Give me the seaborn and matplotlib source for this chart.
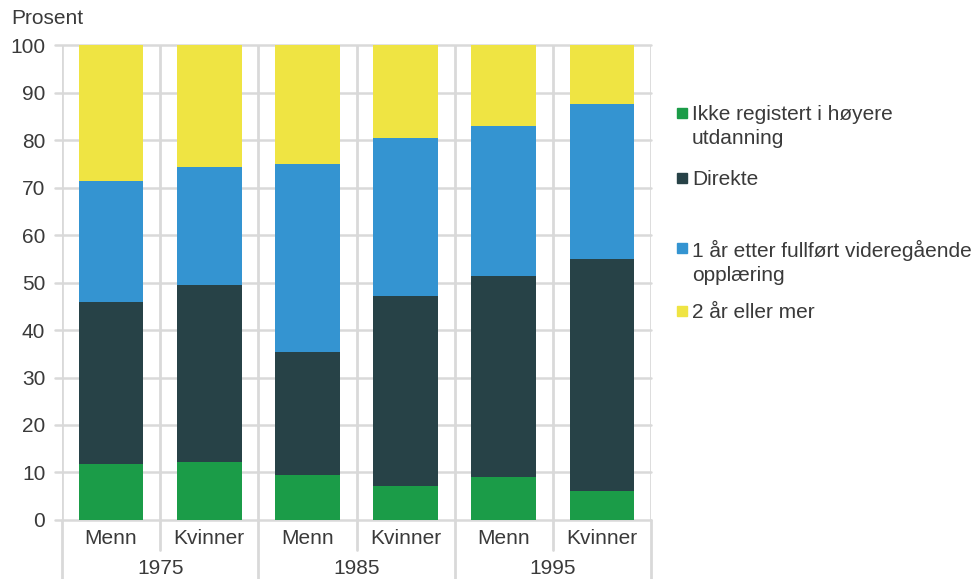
import matplotlib
matplotlib.use("Agg")
import matplotlib.pyplot as plt
import seaborn as sns
import pandas as pd
import numpy as np
from matplotlib.lines import Line2D
from matplotlib.patches import Rectangle

# ---- data ----
years = ["1975", "1975", "1985", "1985", "1995", "1995"]
genders = ["Menn", "Kvinner", "Menn", "Kvinner", "Menn", "Kvinner"]
ikke_registert = [11.8, 12.2, 9.5, 7.2, 9.1, 6.1]
direkte = [34.1, 37.3, 25.9, 40.0, 42.3, 48.8]
ett_aar = [25.5, 24.8, 39.5, 33.2, 31.5, 32.7]
to_aar = [28.6, 25.7, 25.1, 19.6, 17.1, 12.4]
series_names = ["Ikke registert i høyere\nutdanning", "Direkte",
                "1 år etter fullført videregående\nopplæring", "2 år eller mer"]
colors = ["#1b9c48", "#274247", "#3494d1", "#efe443"]
yticks = [0, 10, 20, 30, 40, 50, 60, 70, 80, 90, 100]

sns.set_theme(style="white")
plt.rcParams["font.family"] = ["Liberation Sans", "DejaVu Sans"]
txt_color = "#3a3a3a"
grid_color = "#d9d9d9"
fs = 15

cats = [f"{y} {g}" for y, g in zip(years, genders)]
segs = [ikke_registert, direkte, ett_aar, to_aar]
cum = np.cumsum(np.array(segs), axis=0)

fig = plt.figure(figsize=(9.79, 5.79), dpi=100)
ax = fig.add_axes([0.0633, 0.102, 0.6017, 0.820])

# draw from top of stack downwards so lower segments overlay
for i in range(3, -1, -1):
    df = pd.DataFrame({"cat": cats, "val": cum[i]})
    sns.barplot(data=df, x="cat", y="val", order=cats, color=colors[i],
                width=0.66, saturation=1, ax=ax, zorder=3, edgecolor="none")

ax.set_xlim(-0.5, len(cats) - 0.5)
ax.set_ylim(0, 100)
ax.set_yticks(yticks)
ax.set_yticklabels([str(t) for t in yticks], fontsize=fs, color=txt_color)
ax.set_xticks([])
ax.set_xlabel("")
ax.set_ylabel("")
for s in ax.spines.values():
    s.set_visible(False)

# gridlines
for t in yticks:
    ax.plot([-0.5 - 0.07, len(cats) - 0.5], [t, t], color=grid_color, lw=1.8,
            zorder=1, clip_on=False)
for k in range(len(cats) + 1):
    ax.axvline(k - 0.5, color=grid_color, lw=2.0, zorder=1)
ax.tick_params(axis="y", length=0, pad=12)

# category labels under axis
trans = ax.get_xaxis_transform()
for k, g in enumerate(genders):
    ax.text(k, -0.04, g, transform=trans, ha="center", va="center",
            fontsize=fs, color=txt_color)
# separators
for k in range(len(cats) + 1):
    x = k - 0.5
    full = (k % 2 == 0)
    y_end = -0.125 if full else -0.063
    ax.add_line(Line2D([x, x], [0, y_end], transform=trans, color=grid_color,
                       lw=2.0, clip_on=False))
# year labels
uniq = []
for k, y in enumerate(years):
    if not uniq or uniq[-1][0] != y:
        uniq.append([y, [k]])
    else:
        uniq[-1][1].append(k)
for y, ks in uniq:
    ax.text(np.mean(ks), -0.103, y, transform=trans, ha="center", va="center",
            fontsize=fs, color=txt_color)

fig.text(11 / 979, 1 - 19 / 579, "Prosent", ha="left", va="center",
         fontsize=fs, color=txt_color)

# legend
leg_y = [113, 178, 248, 311]
for i, name in enumerate(series_names):
    yc = 1 - leg_y[i] / 579
    fig.patches.append(Rectangle((677 / 979, yc - 5 / 579), 10 / 979, 10 / 579,
                                 transform=fig.transFigure, color=colors[i]))
    fig.text(692 / 979, yc + 8 / 579, name, ha="left", va="top", fontsize=fs,
             color=txt_color, linespacing=1.33)

fig.savefig("out.png", dpi=100)
